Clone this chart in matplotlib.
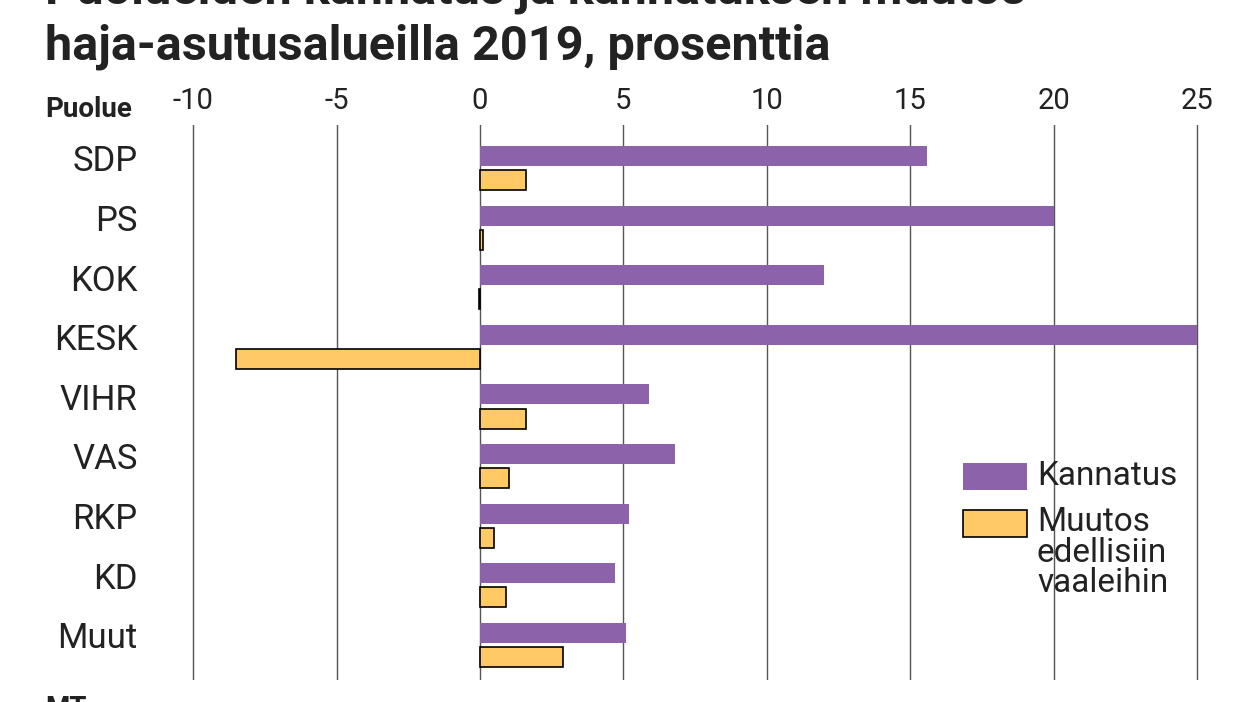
import matplotlib
matplotlib.use("Agg")
import matplotlib.pyplot as plt
from matplotlib.patches import Rectangle

parties = ["SDP", "PS", "KOK", "KESK", "VIHR", "VAS", "RKP", "KD", "Muut"]
kannatus = [15.6, 20.0, 12.0, 25.0, 5.9, 6.8, 5.2, 4.7, 5.1]
muutos = [1.6, 0.1, -0.05, -8.5, 1.6, 1.0, 0.5, 0.9, 2.9]
ticks = [-10, -5, 0, 5, 10, 15, 20, 25]
tick_labels = ["-10", "-5", "0", "5", "10", "15", "20", "25"]

purple = "#8c62aa"
yellow = "#ffc966"
plt.rcParams['font.family'] = ['Roboto', 'DejaVu Sans']

W, H = 1248, 702
fig = plt.figure(figsize=(12.48, 7.02), dpi=100)
ax = fig.add_axes([175/W, 1-680/H, (1210-175)/W, (680-125)/H])
ax.set_xlim(-10.63, 25.45)
ax.set_ylim(8.62, -0.69)
y = list(range(len(parties)))
ax.barh([i-0.17 for i in y], kannatus, height=0.335, color=purple)
ax.barh([i+0.235 for i in y], muutos, height=0.335, color=yellow, edgecolor="black", linewidth=1.2)
ax.set_xticks(ticks)
ax.set_xticklabels(tick_labels)
ax.xaxis.tick_top()
ax.tick_params(axis='x', length=0, labelsize=21, pad=7, colors='#222222')
ax.set_yticks([i-0.13 for i in y])
ax.set_yticklabels(parties, fontsize=25, color='#222222')
ax.tick_params(axis='y', length=0, pad=27)
ax.grid(axis='x', color='#555555', linewidth=1)
ax.set_axisbelow(True)
for s in ax.spines.values():
    s.set_visible(False)

fig.text(45/W, 1-117/H, "Puolue", fontsize=20, fontweight='bold', va='baseline', color='#222222')
fig.text(45/W, 1-4/H, "Puolueiden kannatus ja kannatuksen muutos", fontsize=35, fontweight='bold', va='baseline', color='#222222')
fig.text(45/W, 1-60/H, "haja-asutusalueilla 2019, prosenttia", fontsize=35, fontweight='bold', va='baseline', color='#222222')
fig.text(45/W, 1-716/H, "MT", fontsize=20, fontweight='bold', va='baseline', color='#222222')

fig.add_artist(Rectangle((963/W, 1-490/H), 64/W, 27/H, transform=fig.transFigure, facecolor=purple))
fig.add_artist(Rectangle((963/W, 1-537/H), 64/W, 27/H, transform=fig.transFigure, facecolor=yellow, edgecolor='black', linewidth=1.2))
fig.text(1037/W, 1-476/H, "Kannatus", fontsize=24, va='center', color='#222222')
fig.text(1037/W, 1-506/H, "Muutos\nedellisiin\nvaaleihin", fontsize=24, va='top', linespacing=0.95, color='#222222')

fig.savefig("out.png", dpi=100)
